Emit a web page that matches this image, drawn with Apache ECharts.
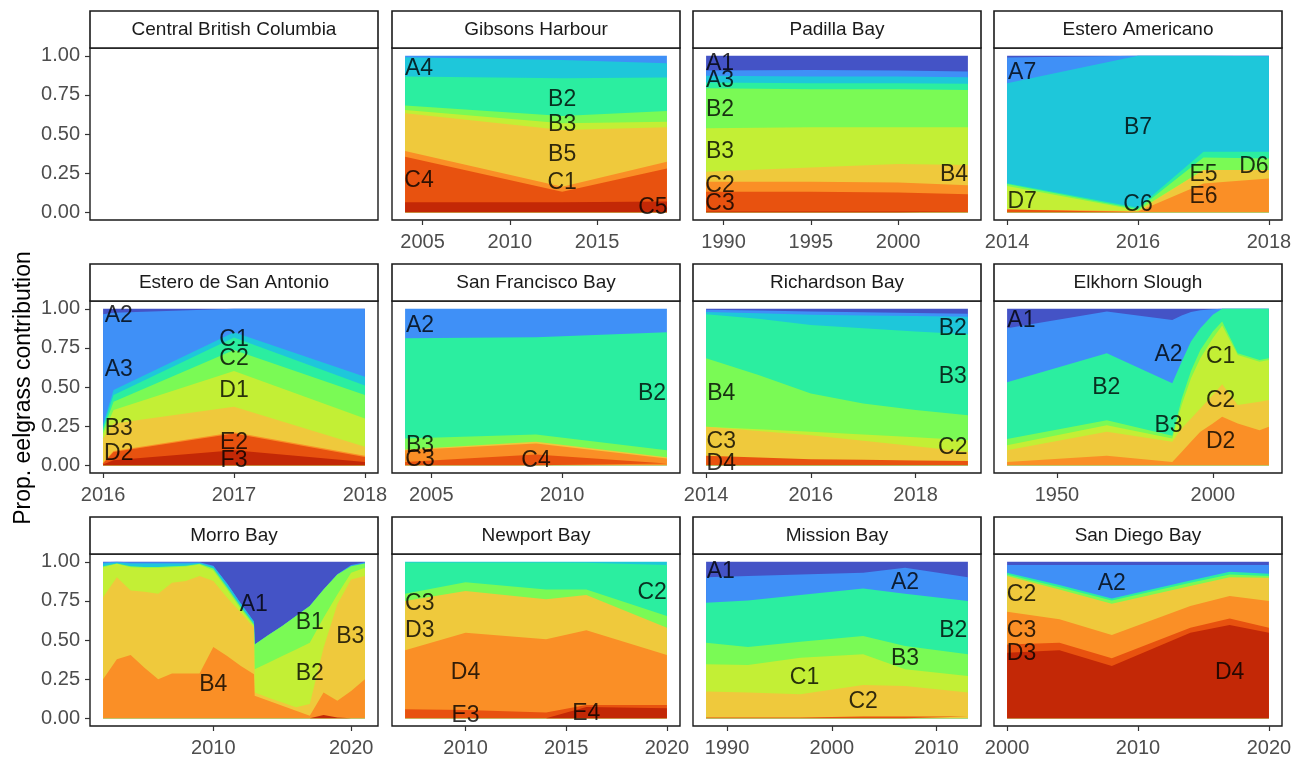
<!DOCTYPE html>
<html><head><meta charset="utf-8">
<script src="https://cdn.jsdelivr.net/npm/echarts@6/dist/echarts.min.js"></script>
<style>html,body{margin:0;padding:0;background:#fff}#c{width:1298px;height:758px}</style>
</head><body><div id="c"></div>
<script>
// ---------- DATA (cumulative upper boundary of each layer, bottom -> top) ----------
// Gibsons Harbour
const GH_years = [2004, 2013, 2019];
const GH_C5 = [0.064, 0.064, 0.068];
const GH_C4 = [0.355, 0.13, 0.28];
const GH_C1 = [0.391, 0.162, 0.323];
const GH_B5 = [0.632, 0.526, 0.543];
const GH_B3 = [0.654, 0.568, 0.579];
const GH_lg = [0.682, 0.615, 0.647];
const GH_B2 = [0.868, 0.857, 0.861];
const GH_A4 = [0.991, 0.974, 0.953];
const GH_top = [1, 1, 1];
const GH_ticks = [2005, 2010, 2015];
const GH_labels = [['A4',2004.8,0.92],['B2',2013,0.722],['B3',2013,0.558],['B5',2013,0.365],['C1',2013,0.188],['C4',2004.8,0.199],['C5',2018.2,0.028]];
// Padilla Bay
const PB_years = [1989, 1995, 2000, 2004];
const PB_dr = [0.005, 0.005, 0.005, 0.005];
const PB_C3 = [0.13, 0.13, 0.126, 0.115];
const PB_C2 = [0.194, 0.194, 0.19, 0.173];
const PB_B4 = [0.259, 0.286, 0.308, 0.301];
const PB_B3 = [0.536, 0.543, 0.543, 0.543];
const PB_B2 = [0.793, 0.786, 0.786, 0.782];
const PB_aq = [0.829, 0.825, 0.825, 0.821];
const PB_A3 = [0.872, 0.868, 0.868, 0.863];
const PB_blue = [0.906, 0.91, 0.906, 0.90];
const PB_A1 = [1, 1, 1, 1];
const PB_ticks = [1990, 1995, 2000];
const PB_labels = [['A1',1989.8,0.953],['A3',1989.8,0.842],['B2',1989.8,0.654],['B3',1989.8,0.387],['B4',2003.2,0.237],['C2',1989.8,0.167],['C3',1989.8,0.056]];
// Estero Americano
const EA_years = [2014, 2016, 2017, 2018];
const EA_red = [0.017, 0, 0, 0];
const EA_E6 = [0.017, 0.005, 0.184, 0.216];
const EA_E5 = [0.017, 0.008, 0.269, 0.269];
const EA_D7 = [0.167, 0.013, 0.269, 0.269];
const EA_D6 = [0.18, 0.018, 0.35, 0.344];
const EA_C6 = [0.185, 0.028, 0.386, 0.387];
const EA_B7 = [0.825, 1, 1, 0.997];
const EA_A7 = [0.99, 1, 1, 1];
const EA_top = [1, 1, 1, 1];
const EA_ticks = [2014, 2016, 2018];
const EA_labels = [['A7',2014.23,0.893],['B7',2016,0.543],['C6',2016,0.05],['D7',2014.23,0.07],['E5',2017,0.237],['E6',2017,0.10],['D6',2017.77,0.29]];
// Estero de San Antonio
const ES_years = [2016, 2016.08, 2017, 2018];
const ES_F3 = [0.005, 0.032, 0.096, 0.021];
const ES_E2 = [0.01, 0.085, 0.203, 0.053];
const ES_or = [0.015, 0.09, 0.21, 0.06];
const ES_gold = [0.17, 0.267, 0.374, 0.118];
const ES_D1 = [0.2, 0.353, 0.603, 0.299];
const ES_C2 = [0.22, 0.406, 0.737, 0.449];
const ES_C1 = [0.24, 0.449, 0.816, 0.509];
const ES_cyan = [0.26, 0.481, 0.850, 0.566];
const ES_A3 = [0.966, 0.975, 1, 1];
const ES_A2 = [1, 1, 1, 1];
const ES_ticks = [2016, 2017, 2018];
const ES_labels = [['A2',2016.12,0.957],['A3',2016.12,0.609],['B3',2016.12,0.235],['D2',2016.12,0.075],['C1',2017,0.80],['C2',2017,0.68],['D1',2017,0.476],['E2',2017,0.145],['F3',2017,0.032]];
// San Francisco Bay
const SF_years = [2004, 2009, 2014];
const SF_C4 = [0.021, 0.068, 0.011];
const SF_C3 = [0.096, 0.139, 0.043];
const SF_gold = [0.10, 0.15, 0.05];
const SF_B3 = [0.171, 0.197, 0.096];
const SF_B2 = [0.812, 0.818, 0.85];
const SF_A2 = [1, 1, 1];
const SF_ticks = [2005, 2010];
const SF_labels = [['A2',2004.57,0.893],['B2',2013.43,0.459],['B3',2004.57,0.128],['C3',2004.57,0.038],['C4',2009,0.028]];
// Richardson Bay
const RB_years = [2014, 2015, 2016, 2017, 2018, 2019];
const RB_D4 = [0.06, 0.049, 0.038, 0.034, 0.03, 0.026];
const RB_C3 = [0.246, 0.219, 0.192, 0.157, 0.121, 0.085];
const RB_C2 = [0.246, 0.23, 0.214, 0.196, 0.178, 0.16];
const RB_B4 = [0.684, 0.577, 0.459, 0.395, 0.353, 0.32];
const RB_B3 = [0.966, 0.936, 0.897, 0.876, 0.855, 0.838];
const RB_B2 = [0.979, 0.972, 0.962, 0.958, 0.954, 0.95];
const RB_blue = [0.994, 0.99, 0.983, 0.978, 0.973, 0.968];
const RB_top = [1, 1, 1, 1, 1, 1];
const RB_ticks = [2014, 2016, 2018];
const RB_labels = [['B2',2018.71,0.876],['B3',2018.71,0.566],['B4',2014.29,0.459],['C3',2014.29,0.15],['C2',2018.71,0.113],['D4',2014.29,0.011]];
// Elkhorn Slough
const EK_years = [1934, 1966, 1987, 1990, 1993, 1996, 2000, 2003, 2008, 2015, 2018];
const EK_D2 = [0.021, 0.06, 0.021, 0.085, 0.15, 0.214, 0.267, 0.31, 0.267, 0.224, 0.246];
const EK_C2 = [0.096, 0.214, 0.15, 0.235, 0.299, 0.363, 0.449, 0.517, 0.385, 0.406, 0.417];
const EK_C1 = [0.128, 0.256, 0.171, 0.385, 0.556, 0.684, 0.812, 0.893, 0.705, 0.662, 0.673];
const EK_B3 = [0.167, 0.288, 0.188, 0.423, 0.603, 0.737, 0.855, 0.919, 0.716, 0.673, 0.684];
const EK_B2 = [0.53, 0.716, 0.524, 0.662, 0.791, 0.876, 0.962, 1, 1, 1, 1];
const EK_A2 = [0.876, 0.983, 0.929, 0.957, 0.979, 0.991, 0.998, 1, 1, 1, 1];
const EK_A1 = [1, 1, 1, 1, 1, 1, 1, 1, 1, 1, 1];
const EK_ticks = [1950, 2000];
const EK_labels = [['A1',1938.6,0.923],['B2',1965.8,0.496],['A2',1985.8,0.709],['B3',1985.8,0.25],['C1',2002.5,0.694],['C2',2002.5,0.41],['D2',2002.5,0.15]];
// Morro Bay
const MB_years = [2002, 2003, 2004, 2005, 2006, 2007, 2008, 2009, 2010, 2011, 2012, 2012.95, 2013, 2014, 2015, 2016, 2017, 2018, 2019, 2020, 2021];
const MB_red = [0, 0, 0, 0, 0, 0, 0, 0, 0, 0, 0, 0, 0, 0, 0, 0, 0, 0.02, 0.005, 0, 0];
const MB_B4 = [0.249, 0.377, 0.404, 0.323, 0.249, 0.285, 0.285, 0.285, 0.455, 0.398, 0.334, 0.281, 0.143, 0.111, 0.079, 0.047, 0.015, 0.164, 0.111, 0.174, 0.249];
const MB_B3 = [0.774, 0.902, 0.817, 0.809, 0.796, 0.866, 0.877, 0.909, 0.877, 0.770, 0.674, 0.579, 0.165, 0.13, 0.10, 0.07, 0.09, 0.451, 0.728, 0.887, 0.909];
const MB_B2 = [0.966, 0.987, 0.966, 0.962, 0.962, 0.966, 0.970, 0.983, 0.945, 0.823, 0.696, 0.589, 0.313, 0.355, 0.398, 0.440, 0.483, 0.643, 0.791, 0.93, 0.962];
const MB_B1 = [0.971, 0.99, 0.971, 0.967, 0.967, 0.971, 0.975, 0.987, 0.957, 0.838, 0.711, 0.600, 0.472, 0.532, 0.589, 0.653, 0.717, 0.823, 0.919, 0.972, 0.989];
const MB_cyan = [0.99, 0.995, 0.99, 0.99, 0.99, 0.99, 0.99, 0.993, 0.972, 0.860, 0.732, 0.617, 0.472, 0.532, 0.589, 0.653, 0.717, 0.823, 0.919, 0.975, 0.992];
const MB_blue = [0.997, 1, 0.997, 0.997, 0.997, 0.997, 0.997, 0.998, 0.975, 0.862, 0.734, 0.619, 0.472, 0.532, 0.589, 0.653, 0.717, 0.823, 0.92, 0.98, 0.997];
const MB_A1 = [1, 1, 1, 1, 1, 1, 1, 1, 1, 1, 1, 1, 1, 1, 1, 1, 1, 1, 1, 1, 1];
const MB_ticks = [2010, 2020];
const MB_labels = [['A1',2012.93,0.723],['B1',2017,0.611],['B2',2017,0.285],['B3',2019.94,0.519],['B4',2010,0.217]];
// Newport Bay
const NB_years = [2007, 2010, 2014, 2016, 2020];
const NB_E4 = [0, 0, 0, 0.072, 0.064];
const NB_E3 = [0.057, 0.053, 0.036, 0.085, 0.085];
const NB_D4 = [0.434, 0.547, 0.504, 0.562, 0.404];
const NB_D3 = [0.749, 0.813, 0.760, 0.787, 0.579];
const NB_C3 = [0.796, 0.870, 0.823, 0.823, 0.653];
const NB_C2 = [0.996, 0.996, 0.996, 0.994, 0.979];
const NB_top = [1, 1, 1, 1, 1];
const NB_ticks = [2010, 2015, 2020];
const NB_labels = [['C3',2007.73,0.732],['D3',2007.73,0.562],['D4',2010,0.291],['E3',2010,0.019],['E4',2016,0.03],['C2',2019.27,0.802]];
// Mission Bay
const MI_years = [1988, 1992, 1997, 2003, 2007, 2013];
const MI_red = [0.005, 0.005, 0.005, 0.01, 0.01, 0.01];
const MI_C2 = [0.17, 0.164, 0.153, 0.213, 0.206, 0.164];
const MI_C1 = [0.345, 0.34, 0.387, 0.409, 0.313, 0.27];
const MI_B3 = [0.483, 0.455, 0.489, 0.526, 0.462, 0.409];
const MI_B2 = [0.738, 0.753, 0.787, 0.83, 0.796, 0.749];
const MI_A2 = [0.902, 0.909, 0.919, 0.93, 0.962, 0.902];
const MI_A1 = [1, 1, 1, 1, 1, 1];
const MI_ticks = [1990, 2000, 2010];
const MI_labels = [['A1',1989.4,0.936],['A2',2007,0.866],['B2',2011.6,0.562],['B3',2007,0.383],['C1',1997.4,0.26],['C2',2003,0.106]];
// San Diego Bay
const SD_years = [2000, 2004, 2008, 2014, 2017, 2020];
const SD_D4 = [0.419, 0.434, 0.334, 0.547, 0.596, 0.547];
const SD_D3 = [0.472, 0.483, 0.383, 0.579, 0.638, 0.579];
const SD_C3 = [0.681, 0.632, 0.532, 0.717, 0.781, 0.749];
const SD_C2 = [0.909, 0.823, 0.732, 0.845, 0.902, 0.898];
const SD_lg = [0.919, 0.838, 0.753, 0.866, 0.919, 0.909];
const SD_aq = [0.93, 0.851, 0.766, 0.881, 0.936, 0.923];
const SD_A2 = [0.979, 0.979, 0.979, 0.979, 0.979, 0.979];
const SD_top = [1, 1, 1, 1, 1, 1];
const SD_ticks = [2000, 2010, 2020];
const SD_labels = [['C2',2001.1,0.791],['A2',2008,0.86],['C3',2001.1,0.562],['D3',2001.1,0.413],['D4',2017,0.291]];

const Y_ticks = [0, 0.25, 0.5, 0.75, 1];

// ---------- STYLE ----------
const COL = {indigo:'#4453C6', blue:'#3F90F7', cyan:'#1EC7DA', aqua:'#2BEEA0', lgreen:'#7AFA55',
  ygreen:'#C3EF35', gold:'#EFC93C', orange:'#FA8F26', redorange:'#E8520F', darkred:'#C32806'};
const FONT = '"Liberation Sans", Arial, sans-serif';

const panels = [
  {title:'Central British Columbia'},
  {title:'Gibsons Harbour', years:GH_years, ticks:GH_ticks, labels:GH_labels, layers:[
    ['darkred',GH_C5],['redorange',GH_C4],['orange',GH_C1],['gold',GH_B5],['ygreen',GH_B3],['lgreen',GH_lg],['aqua',GH_B2],['cyan',GH_A4],['blue',GH_top]]},
  {title:'Padilla Bay', years:PB_years, ticks:PB_ticks, labels:PB_labels, layers:[
    ['darkred',PB_dr],['redorange',PB_C3],['orange',PB_C2],['gold',PB_B4],['ygreen',PB_B3],['lgreen',PB_B2],['aqua',PB_aq],['cyan',PB_A3],['blue',PB_blue],['indigo',PB_A1]]},
  {title:'Estero Americano', years:EA_years, ticks:EA_ticks, labels:EA_labels, layers:[
    ['redorange',EA_red],['orange',EA_E6],['gold',EA_E5],['ygreen',EA_D7],['lgreen',EA_D6],['aqua',EA_C6],['cyan',EA_B7],['blue',EA_A7],['indigo',EA_top]]},
  {title:'Estero de San Antonio', years:ES_years, ticks:ES_ticks, labels:ES_labels, layers:[
    ['darkred',ES_F3],['redorange',ES_E2],['orange',ES_or],['gold',ES_gold],['ygreen',ES_D1],['lgreen',ES_C2],['aqua',ES_C1],['cyan',ES_cyan],['blue',ES_A3],['indigo',ES_A2]]},
  {title:'San Francisco Bay', years:SF_years, ticks:SF_ticks, labels:SF_labels, layers:[
    ['redorange',SF_C4],['orange',SF_C3],['gold',SF_gold],['lgreen',SF_B3],['aqua',SF_B2],['blue',SF_A2]]},
  {title:'Richardson Bay', years:RB_years, ticks:RB_ticks, labels:RB_labels, layers:[
    ['redorange',RB_D4],['gold',RB_C3],['ygreen',RB_C2],['lgreen',RB_B4],['aqua',RB_B3],['cyan',RB_B2],['blue',RB_blue],['indigo',RB_top]]},
  {title:'Elkhorn Slough', years:EK_years, ticks:EK_ticks, labels:EK_labels, layers:[
    ['orange',EK_D2],['gold',EK_C2],['ygreen',EK_C1],['lgreen',EK_B3],['aqua',EK_B2],['blue',EK_A2],['indigo',EK_A1]]},
  {title:'Morro Bay', years:MB_years, ticks:MB_ticks, labels:MB_labels, layers:[
    ['darkred',MB_red],['orange',MB_B4],['gold',MB_B3],['ygreen',MB_B2],['lgreen',MB_B1],['cyan',MB_cyan],['blue',MB_blue],['indigo',MB_A1]]},
  {title:'Newport Bay', years:NB_years, ticks:NB_ticks, labels:NB_labels, layers:[
    ['darkred',NB_E4],['redorange',NB_E3],['orange',NB_D4],['gold',NB_D3],['lgreen',NB_C3],['aqua',NB_C2],['cyan',NB_top]]},
  {title:'Mission Bay', years:MI_years, ticks:MI_ticks, labels:MI_labels, layers:[
    ['redorange',MI_red],['gold',MI_C2],['ygreen',MI_C1],['lgreen',MI_B3],['aqua',MI_B2],['blue',MI_A2],['indigo',MI_A1]]},
  {title:'San Diego Bay', years:SD_years, ticks:SD_ticks, labels:SD_labels, layers:[
    ['darkred',SD_D4],['redorange',SD_D3],['orange',SD_C3],['gold',SD_C2],['lgreen',SD_lg],['aqua',SD_aq],['blue',SD_A2],['indigo',SD_top]]}
];

// ---------- LAYOUT ----------
const colLeft = [90, 392, 693, 994], boxW = 288;
const rowTop = [48, 301, 554], boxH = 172, stripH = 37;

const grids = [], xAxes = [], yAxes = [], series = [], graphics = [];
panels.forEach((p, i) => {
  const r = Math.floor(i / 4), c = i % 4;
  const left = colLeft[c], top = rowTop[r];
  grids.push({left: left, top: top, width: boxW, height: boxH, show: true,
    borderColor: '#1a1a1a', borderWidth: 1.4, backgroundColor: '#fff', containLabel: false});
  const has = !!p.years;
  let xmin = 0, xmax = 1;
  if (has) { xmin = p.years[0]; xmax = p.years[p.years.length - 1]; }
  const pad = (xmax - xmin) * 0.05;
  xAxes.push({type: 'value', gridIndex: i, min: xmin - pad, max: xmax + pad, position: 'bottom',
    axisLine: {show: false, onZero: false}, splitLine: {show: false},
    axisTick: {show: has, length: 5, lineStyle: {color: '#333', width: 1.2}, customValues: has ? p.ticks : []},
    axisLabel: {show: has, customValues: has ? p.ticks : [], color: '#4d4d4d', fontSize: 20, margin: 12,
      fontFamily: FONT, formatter: v => String(Math.round(v))}});
  yAxes.push({type: 'value', gridIndex: i, min: -0.05, max: 1.05, position: 'left',
    axisLine: {show: false, onZero: false}, splitLine: {show: false},
    axisTick: {show: c === 0, length: 5, lineStyle: {color: '#333', width: 1.2}, customValues: Y_ticks},
    axisLabel: {show: c === 0, customValues: Y_ticks, color: '#4d4d4d', fontSize: 20, margin: 10,
      fontFamily: FONT, formatter: v => v.toFixed(2)}});
  // strip
  graphics.push({type: 'rect', shape: {x: left, y: top - stripH, width: boxW, height: stripH},
    style: {fill: '#fff', stroke: '#1a1a1a', lineWidth: 1.6}, z: 5});
  graphics.push({type: 'text', x: left + boxW / 2, y: top - stripH / 2,
    style: {text: p.title, fill: '#1a1a1a', font: '19px ' + FONT, textAlign: 'center', textVerticalAlign: 'middle'}, z: 6});
  if (!has) return;
  // areas: draw top layer first so lower layers overlay
  for (let k = p.layers.length - 1; k >= 0; k--) {
    const [cname, arr] = p.layers[k];
    series.push({type: 'line', xAxisIndex: i, yAxisIndex: i, symbol: 'none', silent: true,
      data: p.years.map((x, j) => [x, arr[j]]),
      lineStyle: {width: 0, opacity: 0}, areaStyle: {color: COL[cname], opacity: 1, origin: 0},
      z: 2, animation: false});
  }
  series.push({type: 'scatter', xAxisIndex: i, yAxisIndex: i, silent: true, clip: false,
    symbolSize: 1, itemStyle: {color: 'rgba(0,0,0,0)'},
    data: p.labels.map(l => [l[1], l[2], l[0]]),
    label: {show: true, position: 'inside', formatter: d => d.value[2], color: '#000',
      fontSize: 23, fontFamily: FONT}, z: 10, animation: false});
});

graphics.push({type: 'text', x: 24, y: 388, rotation: Math.PI / 2,
  style: {text: 'Prop. eelgrass contribution', fill: '#000', font: '23px ' + FONT,
    textAlign: 'center', textVerticalAlign: 'middle'}});

const chart = echarts.init(document.getElementById('c'), null, {renderer: 'canvas'});
chart.setOption({
  animation: false,
  backgroundColor: '#fff',
  textStyle: {fontFamily: FONT},
  grid: grids, xAxis: xAxes, yAxis: yAxes, series: series, graphic: graphics
});
</script>
</body></html>
